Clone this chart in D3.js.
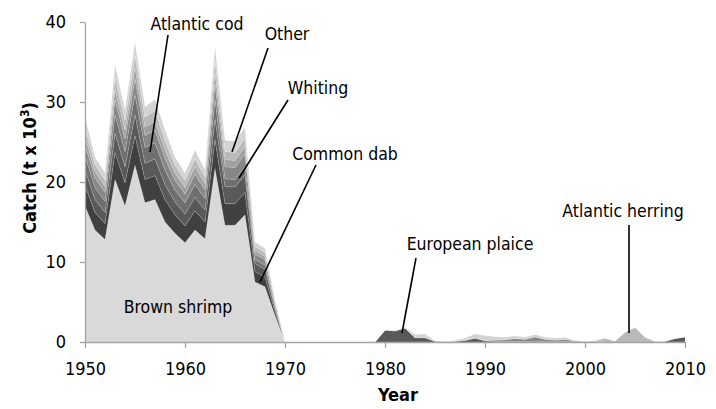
<!DOCTYPE html>
<html>
<head>
<meta charset="utf-8">
<script src="https://cdn.jsdelivr.net/npm/d3@7"></script>
<style>
  html, body { margin: 0; padding: 0; background: #ffffff; }
  svg text { font-family: "DejaVu Sans Condensed", "DejaVu Sans", sans-serif; fill: #000; }
</style>
</head>
<body>
<svg id="chart" width="716" height="409"></svg>
<script>
// Annual catch (thousand tonnes), 1950-2010, one array per species
const years = d3.range(1950, 2011);

const brownShrimp = [
  17.0, 14.0, 12.8, 20.3, 17.0, 22.1, 17.4, 17.8, 15.0, 13.6,   // 1950s
  12.4, 14.0, 12.9, 21.7, 14.6, 14.6, 15.9, 7.5, 6.9, 3.3,      // 1960s
  0, 0, 0, 0, 0, 0, 0, 0, 0, 0,                                 // 1970s
  0, 0, 0, 0, 0, 0, 0, 0, 0, 0,                                 // 1980s
  0, 0, 0, 0, 0, 0, 0, 0, 0, 0,                                 // 1990s
  0, 0, 0, 0, 0, 0, 0, 0, 0, 0,                                 // 2000s
  0                                                             // 2010
];
const commonDab = [
  2.6, 2.2, 2.0, 3.4, 2.9, 3.7, 2.9, 3.0, 2.8, 2.3,
  2.1, 2.4, 2.1, 3.6, 2.7, 2.7, 2.8, 1.3, 1.2, 0.5,
  0, 0, 0, 0, 0, 0, 0, 0, 0, 0,
  0, 0, 0, 0, 0, 0, 0, 0, 0, 0,
  0, 0, 0, 0, 0, 0, 0, 0, 0, 0,
  0, 0, 0, 0, 0, 0, 0, 0, 0, 0,
  0
];
const europeanPlaice = [
  1.9, 1.6, 1.4, 2.4, 2.0, 2.6, 2.0, 2.1, 1.9, 1.6,
  1.5, 1.7, 1.5, 2.6, 2.1, 2.1, 2.2, 1.0, 1.0, 0.4,
  0, 0, 0, 0, 0, 0, 0, 0, 0, 0,
  1.5, 1.4, 1.75, 0.55, 0.55, 0.1, 0.05, 0.1, 0.2, 0.5,
  0.15, 0.05, 0.05, 0.1, 0.05, 0.1, 0.05, 0.05, 0.05, 0.05,
  0, 0, 0, 0, 0, 0, 0, 0, 0.1, 0.45,
  0.65
];
const atlanticCod = [
  1.8, 1.5, 1.4, 2.3, 1.9, 2.5, 2.0, 2.0, 1.8, 1.5,
  1.4, 1.6, 1.4, 2.4, 1.0, 0.9, 1.0, 0.5, 0.5, 0.2,
  0, 0, 0, 0, 0, 0, 0, 0, 0, 0,
  0, 0, 0, 0, 0, 0, 0, 0, 0, 0,
  0, 0, 0, 0, 0, 0, 0, 0, 0, 0,
  0, 0, 0, 0, 0, 0, 0, 0, 0, 0,
  0
];
const whiting = [
  1.4, 1.2, 1.1, 1.9, 1.6, 2.0, 1.5, 1.6, 1.5, 1.2,
  1.1, 1.3, 1.1, 2.0, 1.5, 1.5, 1.6, 0.7, 0.7, 0.3,
  0, 0, 0, 0, 0, 0, 0, 0, 0, 0,
  0, 0, 0, 0, 0, 0, 0, 0, 0.05, 0,
  0.05, 0.2, 0.25, 0.35, 0.3, 0.55, 0.3, 0.2, 0.3, 0.1,
  0.05, 0.1, 0, 0, 0, 0, 0, 0, 0, 0,
  0
];
const commonSole = [
  1.0, 0.8, 0.75, 1.3, 1.1, 1.4, 1.1, 1.1, 1.0, 0.9,
  0.8, 0.9, 0.8, 1.4, 0.9, 0.9, 0.9, 0.4, 0.4, 0.2,
  0, 0, 0, 0, 0, 0, 0, 0, 0, 0,
  0, 0, 0, 0, 0, 0, 0, 0, 0, 0,
  0, 0, 0, 0, 0, 0, 0, 0, 0, 0,
  0, 0, 0, 0, 0, 0, 0, 0, 0, 0,
  0
];
const atlanticHerring = [
  1.1, 0.9, 0.8, 1.45, 1.2, 1.5, 1.2, 1.3, 1.2, 1.0,
  0.9, 1.0, 0.8, 1.5, 1.0, 1.0, 1.1, 0.5, 0.5, 0.2,
  0, 0, 0, 0, 0, 0, 0, 0, 0, 0,
  0, 0, 0, 0, 0, 0, 0, 0, 0, 0,
  0, 0, 0, 0, 0, 0, 0, 0, 0, 0,
  0, 0.05, 0.45, 0.1, 1.2, 1.8, 0.6, 0.05, 0, 0,
  0
];
const other = [
  1.3, 0.9, 0.9, 1.6, 1.3, 1.6, 1.3, 1.4, 1.3, 1.0,
  0.9, 1.1, 0.9, 1.7, 1.4, 1.4, 1.3, 0.6, 0.5, 0.2,
  0, 0, 0, 0, 0, 0, 0, 0, 0, 0,
  0, 0.05, 0.1, 0.4, 0.45, 0.05, 0.05, 0.1, 0.25, 0.5,
  0.6, 0.4, 0.3, 0.3, 0.25, 0.3, 0.25, 0.25, 0.2, 0.05,
  0, 0, 0.05, 0, 0, 0, 0, 0, 0, 0,
  0
];

const seriesNames = ["Brown shrimp", "Common dab", "European plaice", "Atlantic cod",
                     "Whiting", "Common sole", "Atlantic herring", "Other"];
const seriesValues = [brownShrimp, commonDab, europeanPlaice, atlanticCod,
                      whiting, commonSole, atlanticHerring, other];
const seriesColors = ["#d9d9d9", "#404040", "#595959", "#6f6f6f",
                      "#878787", "#a0a0a0", "#b9b9b9", "#d3d3d3"];

const xTicks = [1950, 1960, 1970, 1980, 1990, 2000, 2010];
const yTicks = [0, 10, 20, 30, 40];

// Rows for d3.stack
const rows = years.map((yr, i) => {
  const r = { year: yr };
  seriesNames.forEach((n, k) => { r[n] = seriesValues[k][i]; });
  return r;
});

const svg = d3.select("#chart");
const x = d3.scaleLinear().domain([1950, 2010]).range([85, 685]);
const y = d3.scaleLinear().domain([0, 40]).range([342, 22]);

const stacked = d3.stack().keys(seriesNames)(rows);
const area = d3.area()
  .x(d => x(d.data.year))
  .y0(d => y(d[0]))
  .y1(d => y(d[1]));

svg.append("g").selectAll("path")
  .data(stacked)
  .join("path")
  .attr("d", area)
  .attr("fill", (d, i) => seriesColors[i])
  .attr("stroke", "rgba(255,255,255,0.22)")
  .attr("stroke-width", 0.6);

// Axes
const axisColor = "#a3a3a3";
const gx = svg.append("g")
  .attr("transform", "translate(0,342)")
  .call(d3.axisBottom(x).tickValues(xTicks).tickFormat(d3.format("d"))
    .tickSizeInner(6).tickSizeOuter(0).tickPadding(14));
const gy = svg.append("g")
  .attr("transform", "translate(85,0)")
  .call(d3.axisLeft(y).tickValues(yTicks).tickSizeInner(5).tickSizeOuter(0).tickPadding(14));

[gx, gy].forEach(g => {
  g.select(".domain").attr("stroke", axisColor).attr("stroke-width", 1.3);
  g.selectAll(".tick line").attr("stroke", axisColor).attr("stroke-width", 1.3);
  g.selectAll(".tick text").attr("font-size", 18)
    .attr("font-family", "'DejaVu Sans Condensed', 'DejaVu Sans', sans-serif").attr("fill", "#000");
});
gx.selectAll(".tick text").attr("dy", "0.71em");

// Axis titles
svg.append("text")
  .attr("transform", "translate(36,168) rotate(-90)")
  .attr("text-anchor", "middle")
  .attr("font-size", 18).attr("font-weight", "bold")
  .call(t => {
    t.append("tspan").text("Catch (t x 10");
    t.append("tspan").attr("font-size", 12).attr("dy", -7).text("3");
    t.append("tspan").attr("dy", 7).text(")");
  });

svg.append("text")
  .attr("x", 398).attr("y", 401)
  .attr("text-anchor", "middle")
  .attr("font-size", 18).attr("font-weight", "bold")
  .text("Year");

// Species labels with pointer lines
const labels = [
  { text: "Atlantic cod",     tx: 197, ty: 30,  line: [[168, 35], [150, 152]] },
  { text: "Other",            tx: 287, ty: 40,  line: [[268, 48], [232, 152]] },
  { text: "Whiting",          tx: 318, ty: 94,  line: [[288, 100], [239, 178]] },
  { text: "Common dab",       tx: 345, ty: 160, line: [[316, 165], [260, 282]] },
  { text: "European plaice",  tx: 470, ty: 250, line: [[416, 258], [402, 333]] },
  { text: "Atlantic herring", tx: 623, ty: 217, line: [[629, 225], [629, 333]] },
  { text: "Brown shrimp",     tx: 178, ty: 313, line: null }
];

svg.append("g").selectAll("line")
  .data(labels.filter(d => d.line))
  .join("line")
  .attr("x1", d => d.line[0][0]).attr("y1", d => d.line[0][1])
  .attr("x2", d => d.line[1][0]).attr("y2", d => d.line[1][1])
  .attr("stroke", "#000").attr("stroke-width", 1.6);

svg.append("g").selectAll("text")
  .data(labels)
  .join("text")
  .attr("x", d => d.tx).attr("y", d => d.ty)
  .attr("text-anchor", "middle")
  .attr("font-size", 17.5)
  .text(d => d.text);
</script>
</body>
</html>
